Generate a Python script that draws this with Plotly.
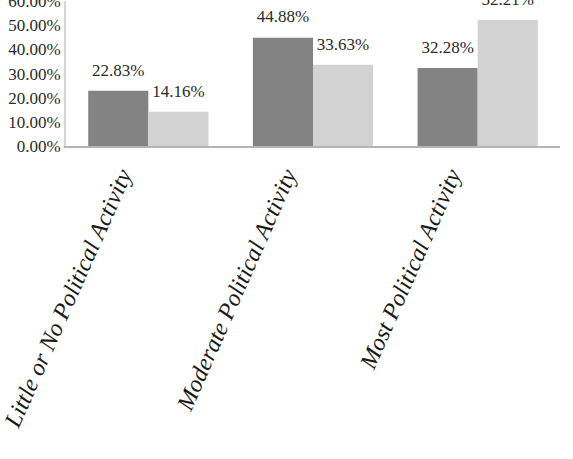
import plotly.graph_objects as go

categories = ["Little or No Political Activity", "Moderate Political Activity", "Most Political Activity"]
series_a = [0.2283, 0.4488, 0.3228]
series_b = [0.1416, 0.3363, 0.5221]
y_ticks = [0, 0.1, 0.2, 0.3, 0.4, 0.5, 0.6]

num_font = dict(family="Liberation Serif", size=17, color="#2a2a2a")

fig = go.Figure()
for vals, col, grp in [(series_a, "#838383", "a"), (series_b, "#d2d2d2", "b")]:
    fig.add_trace(go.Bar(
        x=categories, y=vals, marker=dict(color=col, line=dict(width=0)),
        offsetgroup=grp, hoverinfo="skip",
    ))
for vals, grp in [(series_a, "a"), (series_b, "b")]:
    fig.add_trace(go.Scatter(
        x=categories, y=vals, mode="markers+text",
        marker=dict(size=16, opacity=0),
        text=[f"{v*100:.2f}%" for v in vals], textposition="top center",
        textfont=num_font, cliponaxis=False, offsetgroup=grp,
    ))

fig.update_layout(
    width=573, height=459,
    margin=dict(l=66, r=13, t=1, b=313, autoexpand=False),
    paper_bgcolor="white", plot_bgcolor="white",
    barmode="group", bargap=0.27, bargroupgap=0,
    scattermode="group", scattergap=0.27,
    showlegend=False,
    xaxis=dict(
        showline=True, linecolor="#b4b4b4", linewidth=2,
        showgrid=False, ticks="", tickangle=-66, automargin=False,
        tickfont=dict(family="Liberation Serif", size=24, color="#1a1a1a", style="italic"),
        ticklabelstandoff=4, ticklabelshift=-27,
    ),
    yaxis=dict(
        range=[0, 0.6005], tickvals=y_ticks, tickformat=".2%",
        showline=True, linecolor="#d6d6d6", linewidth=2, automargin=False,
        showgrid=False, zeroline=False, ticks="",
        tickfont=num_font, ticklabeloverflow="allow",
    ),
)

fig.write_html("out.html")
